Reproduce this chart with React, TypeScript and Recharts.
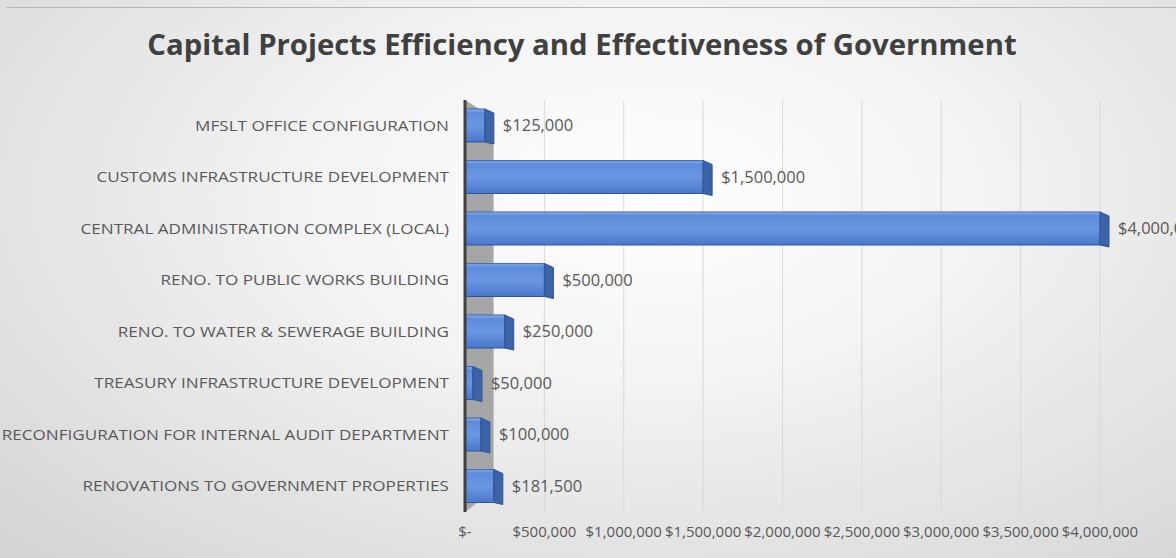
import React from 'react';
import {
  BarChart,
  Bar,
  XAxis,
  YAxis,
  CartesianGrid,
  LabelList,
  ReferenceArea
} from 'recharts';

const projects = [
  'MFSLT OFFICE CONFIGURATION',
  'CUSTOMS INFRASTRUCTURE DEVELOPMENT',
  'CENTRAL ADMINISTRATION COMPLEX (LOCAL)',
  'RENO. TO PUBLIC WORKS BUILDING',
  'RENO. TO WATER & SEWERAGE BUILDING',
  'TREASURY INFRASTRUCTURE DEVELOPMENT',
  'RECONFIGURATION FOR INTERNAL AUDIT DEPARTMENT',
  'RENOVATIONS TO GOVERNMENT PROPERTIES'
];
const budgets = [125000, 1500000, 4000000, 500000, 250000, 50000, 100000, 181500];
const xTicks = [0, 500000, 1000000, 1500000, 2000000, 2500000, 3000000, 3500000, 4000000];

const data = projects.map((name, i) => ({ name, budget: budgets[i] }));

const FONT = '"Open Sans", sans-serif';
const money = (v: number) => (v === 0 ? '$-' : '$' + v.toLocaleString('en-US'));

// flat bar with a thin side face, to hint at the 3D look of the original
function Bar3D(props: any) {
  const { x, y, width, height } = props;
  const d = 9;
  return (
    <g>
      <rect x={x} y={y} width={width} height={height} fill="url(#barFace)" stroke="#2f5597" strokeWidth={1} />
      <rect x={x} y={y} width={width} height={3} fill="#7aa2e6" opacity={0.7} />
      <polygon
        points={`${x + width},${y} ${x + width + d},${y + 4} ${x + width + d},${y + height + 2} ${x + width},${y + height}`}
        fill="#3c63a8"
        stroke="#2f5597"
        strokeWidth={1}
      />
    </g>
  );
}

function Wall(props: any) {
  const { x, y, width, height } = props;
  return (
    <polygon
      points={`${x},${y} ${x + width},${y + 18} ${x + width},${y + height - 22} ${x},${y + height}`}
      fill="#a6a6a6"
    />
  );
}

// the original labels look horizontally stretched, so widen them a little
const CategoryTick = ({ x, y, payload }: any) => (
  <text
    transform={`translate(${x},${y}) scale(1.18,1)`}
    dy={5}
    textAnchor="end"
    fill="#595959"
    fontSize={14.5}
    fontFamily={FONT}
  >
    {payload.value}
  </text>
);

export default function App() {
  return (
    <div
      style={{
        position: 'absolute',
        left: 0,
        top: 0,
        width: 1176,
        height: 558,
        background: 'radial-gradient(ellipse at 55% 35%, #ffffff 0%, #f4f4f4 35%, #d4d4d4 100%)',
        overflow: 'hidden'
      }}
    >
      <div style={{ position: 'absolute', left: 6, right: 0, top: 7, borderTop: '1px solid #b8b8b8' }} />
      <div
        style={{
          position: 'absolute',
          left: 0,
          width: 1164,
          top: 24,
          textAlign: 'center',
          fontFamily: FONT,
          fontWeight: 700,
          fontSize: 29.3,
          color: '#404040'
        }}
      >
        Capital Projects Efficiency and Effectiveness of Government
      </div>
      <BarChart
        width={1176}
        height={558}
        data={data}
        layout="vertical"
        barSize={33}
        margin={{ top: 100, right: 76, bottom: 6, left: 0 }}
        style={{ position: 'absolute', left: 0, top: 0 }}
      >
        <defs>
          <linearGradient id="barFace" x1="0" y1="0" x2="0" y2="1">
            <stop offset="0%" stopColor="#5a88d8" />
            <stop offset="50%" stopColor="#6b97e2" />
            <stop offset="100%" stopColor="#4a78cc" />
          </linearGradient>
        </defs>
        <CartesianGrid horizontal={false} stroke="#d9d9d9" />
        <ReferenceArea x1={0} x2={180000} shape={<Wall />} ifOverflow="visible" />
        <XAxis
          type="number"
          domain={[0, 4000000]}
          ticks={xTicks}
          interval={0}
          tickFormatter={money}
          axisLine={false}
          tickLine={false}
          tickSize={0}
          tickMargin={14}
          height={40}
          tick={{ fill: '#595959', fontSize: 15, fontFamily: FONT }}
        />
        <YAxis
          type="category"
          dataKey="name"
          width={465}
          interval={0}
          tickLine={false}
          tickSize={0}
          tickMargin={16}
          axisLine={{ stroke: '#404040', strokeWidth: 3 }}
          tick={<CategoryTick />}
        />
        <Bar dataKey="budget" shape={<Bar3D />} isAnimationActive={false}>
          <LabelList
            dataKey="budget"
            position="right"
            offset={18}
            formatter={(v: any) => money(Number(v))}
            fill="#595959"
            fontSize={16.5}
            fontFamily={FONT}
          />
        </Bar>
      </BarChart>
    </div>
  );
}
